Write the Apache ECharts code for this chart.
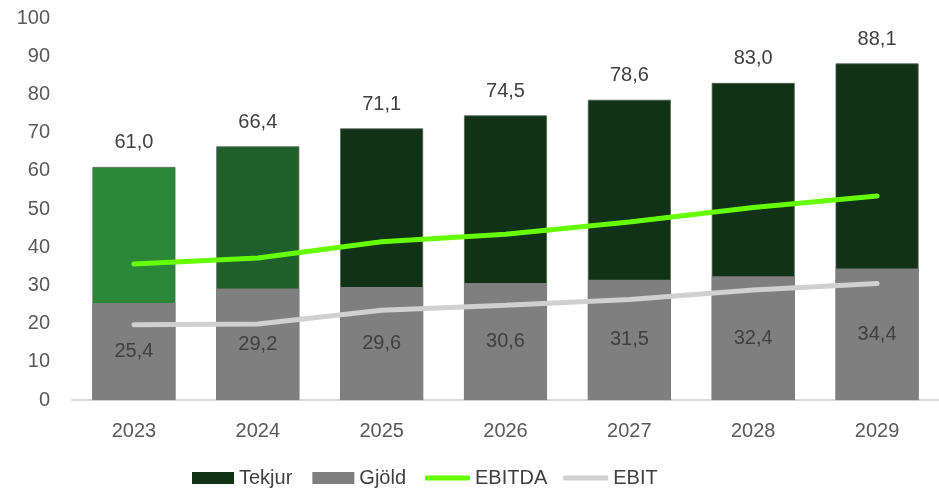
<!DOCTYPE html>
<html>
<head>
<meta charset="utf-8">
<script src="https://cdn.jsdelivr.net/npm/echarts@6/dist/echarts.min.js"></script>
<style>
  html, body { margin: 0; padding: 0; background: #fff; }
  #main { width: 939px; height: 492px; }
</style>
</head>
<body>
<div id="main"></div>
<script>
// gögn
const years = ['2023', '2024', '2025', '2026', '2027', '2028', '2029']
const tekjur = [61.0, 66.4, 71.1, 74.5, 78.6, 83.0, 88.1]
const gjold = [25.4, 29.2, 29.6, 30.6, 31.5, 32.4, 34.4]
const ebitda = [35.6, 37.2, 41.4, 43.4, 46.6, 50.4, 53.4]
const ebit = [19.7, 19.9, 23.5, 24.8, 26.3, 28.8, 30.5]

// litir á tekjusúlum (fyrstu tvö árin ljósari)
const tekjurColors = ['#2b8838', '#1f5f2a', '#113217', '#113217', '#113217', '#113217', '#113217']

const fmt = v => v.toFixed(1).replace('.', ',')
const font = '"Liberation Sans", Arial, sans-serif'
const fs = 20

let myChart = echarts.init(document.getElementById('main'))
let option = {
    animation: false,
    textStyle: { fontFamily: font },
    grid: { left: 72, right: -8, top: 18, bottom: 92, containLabel: false },
    legend: [
        {
            // súlur
            bottom: -1,
            left: 187,
            itemWidth: 42,
            itemHeight: 12,
            itemGap: 20,
            icon: 'rect',
            textStyle: { fontSize: fs, color: '#404040', fontFamily: font },
            data: [
                { name: 'Tekjur', itemStyle: { color: '#113217', borderWidth: 0 } },
                { name: 'Gjöld' }
            ]
        },
        {
            // línur
            bottom: -1,
            left: 420,
            itemWidth: 45,
            itemHeight: 5,
            itemGap: 16,
            icon: 'roundRect',
            textStyle: { fontSize: fs, color: '#404040', fontFamily: font },
            data: ['EBITDA', 'EBIT']
        }
    ],
    xAxis: {
        type: 'category',
        data: years,
        axisLine: { lineStyle: { color: '#d9d9d9', width: 2 } },
        axisTick: { show: false },
        axisLabel: { fontSize: fs, color: '#595959', margin: 21, fontFamily: font }
    },
    yAxis: {
        type: 'value',
        min: 0,
        max: 100,
        interval: 10,
        splitLine: { show: false },
        axisLine: { show: false },
        axisLabel: { fontSize: fs, color: '#595959', margin: 22, fontFamily: font }
    },
    series: [
        {
            name: 'Tekjur',
            type: 'bar',
            data: tekjur,
            barWidth: '67%',
            barGap: '-100%',
            itemStyle: {
                color: p => tekjurColors[p.dataIndex],
                borderColor: '#4f5f4f',
                borderWidth: 0.8
            },
            label: {
                show: true,
                position: 'top',
                distance: 14,
                fontSize: fs,
                color: '#404040',
                fontFamily: font,
                formatter: p => fmt(p.value)
            }
        },
        {
            name: 'Gjöld',
            type: 'bar',
            data: gjold,
            barWidth: '67%',
            itemStyle: { color: '#7f7f7f' },
            label: {
                show: true,
                position: 'inside',
                fontSize: fs,
                color: '#404040',
                fontFamily: font,
                formatter: p => fmt(p.value)
            }
        },
        {
            name: 'EBITDA',
            type: 'line',
            data: ebitda,
            symbol: 'none',
            itemStyle: { color: '#66ff00' },
            lineStyle: { color: '#66ff00', width: 5, cap: 'round' }
        },
        {
            name: 'EBIT',
            type: 'line',
            data: ebit,
            symbol: 'none',
            itemStyle: { color: '#d0d0d0' },
            lineStyle: { color: '#d0d0d0', width: 5, cap: 'round' }
        }
    ]
}
myChart.setOption(option)
</script>
</body>
</html>
